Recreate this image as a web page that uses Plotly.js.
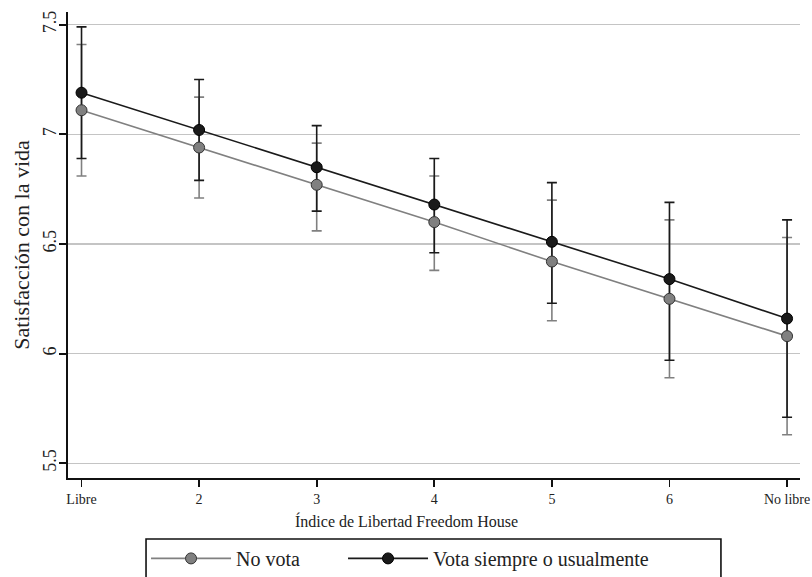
<!DOCTYPE html>
<html>
<head>
<meta charset="utf-8">
<script src="https://cdn.plot.ly/plotly-3.0.1.min.js"></script>
<style>html,body{margin:0;padding:0;background:#fff;}#chart{width:812px;height:577px;}</style>
</head>
<body>
<div id="chart"></div>
<script>
// Data
var xValues = [1, 2, 3, 4, 5, 6, 7];
var xTickLabels = ["Libre", "2", "3", "4", "5", "6", "No libre"];
var seriesNames = ["No vota", "Vota siempre o usualmente"];

var noVotaMean  = [7.11, 6.94, 6.77, 6.60, 6.42, 6.25, 6.08];
var noVotaUpper = [7.41, 7.17, 6.96, 6.81, 6.70, 6.61, 6.53];
var noVotaLower = [6.81, 6.71, 6.56, 6.38, 6.15, 5.89, 5.63];

var votaMean  = [7.19, 7.02, 6.85, 6.68, 6.51, 6.34, 6.16];
var votaUpper = [7.49, 7.25, 7.04, 6.89, 6.78, 6.69, 6.61];
var votaLower = [6.89, 6.79, 6.65, 6.46, 6.23, 5.97, 5.71];

var yTicks = [5.5, 6, 6.5, 7, 7.5];

function diff(a, b) { return a.map(function (v, i) { return +(v - b[i]).toFixed(4); }); }

var grayCol = "#808080";
var blackCol = "#1a1a1a";
var font = "Liberation Serif, Times New Roman, serif";

function errTrace(mean, up, lo, col) {
  return {
    x: xValues, y: mean, type: "scatter", mode: "markers",
    marker: {size: 1, opacity: 0},
    showlegend: false, hoverinfo: "skip",
    error_y: {type: "data", symmetric: false,
      array: diff(up, mean), arrayminus: diff(mean, lo),
      color: col, thickness: 1.6, width: 5}
  };
}

var traces = [
  errTrace(noVotaMean, noVotaUpper, noVotaLower, grayCol),
  errTrace(votaMean, votaUpper, votaLower, blackCol),
  {
    x: xValues, y: noVotaMean, type: "scatter", mode: "lines+markers",
    name: seriesNames[0],
    line: {color: grayCol, width: 1.6},
    marker: {size: 11, color: grayCol, line: {color: "#333333", width: 1}}
  },
  {
    x: xValues, y: votaMean, type: "scatter", mode: "lines+markers",
    name: seriesNames[1],
    line: {color: blackCol, width: 1.6},
    marker: {size: 11, color: blackCol, line: {color: "#000000", width: 1}}
  },
  // spacer legend entry (invisible) so the last real label is not clipped
  {
    x: [null], y: [null], type: "scatter", mode: "markers", name: " ",
    marker: {size: 1, opacity: 0}, hoverinfo: "skip", showlegend: true
  }
];

var layout = {
  width: 812, height: 577,
  margin: {l: 68, r: 12, t: 12, b: 99, autoexpand: false},
  paper_bgcolor: "#ffffff", plot_bgcolor: "#ffffff",
  font: {family: font, color: "#222222"},
  showlegend: true,
  xaxis: {
    range: [0.885, 7.11], tickmode: "array", tickvals: xValues, ticktext: xTickLabels,
    showgrid: false, zeroline: false, showline: true, linecolor: "#111111", linewidth: 1.8,
    ticks: "outside", ticklen: 7, tickwidth: 1.8, tickcolor: "#111111",
    tickfont: {family: font, size: 14, color: "#222222"}
  },
  yaxis: {
    range: [5.433, 7.558], tickmode: "array", tickvals: yTicks,
    ticktext: yTicks.map(function (v) { return String(v); }),
    tickangle: -90, ticklabelstandoff: -4,
    showgrid: true, gridcolor: "#c4c4c4", gridwidth: 1.5,
    zeroline: false, showline: true, linecolor: "#111111", linewidth: 1.8,
    ticks: "outside", ticklen: 7, tickwidth: 1.8, tickcolor: "#111111",
    tickfont: {family: font, size: 18, color: "#222222"},
    title: {text: "Satisfacción con la vida", font: {family: font, size: 22, color: "#222222"}, standoff: 4}
  },
  annotations: [{
    text: "Índice de Libertad Freedom House", xref: "paper", yref: "paper",
    x: 0.463, y: -0.0923, xanchor: "center", yanchor: "middle", showarrow: false,
    font: {family: font, size: 16, color: "#222222"}
  }],
  shapes: [{
    type: "rect", xref: "paper", yref: "paper",
    x0: 0.1066, x1: 0.892, y0: -0.131, y1: -0.30,
    line: {color: "#111111", width: 1.6}, fillcolor: "rgba(0,0,0,0)", layer: "above"
  }],
  legend: {
    orientation: "h", x: 0.1066, xanchor: "left",
    yref: "container", y: 0.066, yanchor: "top",
    font: {family: font, size: 20, color: "#222222"},
    itemwidth: 80, entrywidth: 102, entrywidthmode: "pixels",
    bgcolor: "rgba(0,0,0,0)", borderwidth: 0
  }
};

Plotly.newPlot("chart", traces, layout, {displayModeBar: false, staticPlot: true});
</script>
</body>
</html>
